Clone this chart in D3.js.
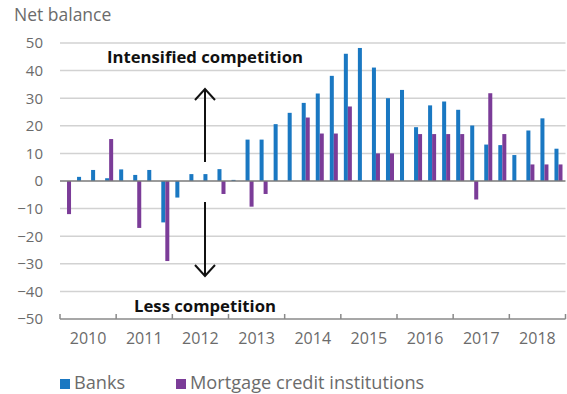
<!DOCTYPE html>
<html>
<head>
<meta charset="utf-8">
<script src="https://cdn.jsdelivr.net/npm/d3@7"></script>
<style>
  html, body { margin: 0; padding: 0; background: #fff; }
  svg { display: block; font-family: "Open Sans", sans-serif; }
</style>
</head>
<body>
<svg id="chart" width="567" height="394"></svg>
<script>
// Quarterly net balance, 2010 Q1 – 2018 Q4
const years = ["2010", "2011", "2012", "2013", "2014", "2015", "2016", "2017", "2018"];
const quarters = years.flatMap(y => ["Q1", "Q2", "Q3", "Q4"].map(q => y + q));
const seriesNames = ["Banks", "Mortgage credit institutions"];
const banks = [
  0, 1.5, 4, 1,
  4.2, 2.2, 4, -15,
  -6, 2.5, 2.5, 4.3,
  0.4, 15, 15, 20.6,
  24.7, 28.3, 31.7, 38.1,
  46.1, 48.2, 41.1, 30,
  33, 19.5, 27.4, 28.8,
  25.8, 20.1, 13.2, 13,
  9.4, 18.3, 22.7, 11.7
];
const mortgage = [
  -12, 0, 0, 15.2,
  0, -17, 0, -29,
  0, 0, 0, -4.7,
  0, -9.3, -4.7, 0,
  0, 23, 17.2, 17.2,
  27, 0, 10, 10,
  0, 17, 17, 17,
  17, -6.7, 31.8, 17,
  0, 6, 6, 6
];
const yTicks = [50, 40, 30, 20, 10, 0, -10, -20, -30, -40, -50];
const colors = ["#1a78c2", "#7b3c98"];

const svg = d3.select("#chart");
const plotLeft = 60, plotRight = 565.5, plotTop = 43, plotBottom = 319;

const y = d3.scaleLinear().domain([-50, 50]).range([plotBottom, plotTop]);
const xq = d3.scaleBand().domain(quarters).range([plotLeft, plotRight]).paddingInner(0).paddingOuter(0);
const xs = d3.scaleBand().domain(seriesNames).range([0, xq.bandwidth()]).paddingInner(0).paddingOuter(0.75);
const xy = d3.scaleBand().domain(years).range([plotLeft, plotRight]);

// Horizontal gridlines
svg.append("g")
  .selectAll("line")
  .data(yTicks.filter(v => v !== 0 && v !== -50))
  .join("line")
  .attr("x1", plotLeft).attr("x2", plotRight)
  .attr("y1", d => y(d)).attr("y2", d => y(d))
  .attr("stroke", "#d2d2d2").attr("stroke-width", 1.5);

// Y tick labels
const yAxis = svg.append("g")
  .attr("transform", `translate(${plotLeft},0)`)
  .call(d3.axisLeft(y).tickValues(yTicks).tickSize(0).tickPadding(17).tickFormat(d3.format("d")));
yAxis.select(".domain").remove();
yAxis.selectAll("text")
  .attr("fill", "#6b6b6b")
  .style("font-size", "15px")
  .style("font-family", "'Open Sans', sans-serif");

// Bars
const data = [];
quarters.forEach((q, i) => {
  data.push({ q, s: seriesNames[0], v: banks[i] });
  data.push({ q, s: seriesNames[1], v: mortgage[i] });
});
svg.append("g")
  .selectAll("rect")
  .data(data.filter(d => d.v !== 0))
  .join("rect")
  .attr("x", d => xq(d.q) + xs(d.s))
  .attr("width", xs.bandwidth())
  .attr("y", d => y(Math.max(0, d.v)))
  .attr("height", d => Math.abs(y(d.v) - y(0)))
  .attr("fill", d => colors[seriesNames.indexOf(d.s)]);

// Zero line
svg.append("line")
  .attr("x1", plotLeft).attr("x2", plotRight)
  .attr("y1", y(0)).attr("y2", y(0))
  .attr("stroke", "#7a7a7a").attr("stroke-width", 1.5);

// Bottom axis with year labels and boundary ticks
svg.append("line")
  .attr("x1", plotLeft).attr("x2", plotRight)
  .attr("y1", plotBottom).attr("y2", plotBottom)
  .attr("stroke", "#8a8a8a").attr("stroke-width", 1.5);
const boundaries = years.map(yr => xy(yr)).concat([plotRight]);
svg.append("g")
  .selectAll("line")
  .data(boundaries)
  .join("line")
  .attr("x1", d => d).attr("x2", d => d)
  .attr("y1", plotBottom).attr("y2", plotBottom - 5)
  .attr("stroke", "#8a8a8a").attr("stroke-width", 1.5);
const xAxis = svg.append("g")
  .attr("transform", `translate(0,${plotBottom})`)
  .call(d3.axisBottom(xy).tickSize(0).tickPadding(14));
xAxis.select(".domain").remove();
xAxis.selectAll("text")
  .attr("fill", "#6b6b6b")
  .style("font-size", "16px")
  .style("font-family", "'Open Sans', sans-serif");

// Axis title
svg.append("text")
  .attr("x", 14).attr("y", 21)
  .attr("fill", "#6b6b6b")
  .style("font-size", "17.5px")
  .text("Net balance");

// Annotations
const ax = 205;
svg.append("text")
  .attr("x", ax).attr("y", 63)
  .attr("text-anchor", "middle")
  .attr("fill", "#111")
  .style("font-size", "16.7px").style("font-weight", "bold")
  .text("Intensified competition");
svg.append("text")
  .attr("x", ax).attr("y", 312)
  .attr("text-anchor", "middle")
  .attr("fill", "#111")
  .style("font-size", "16.7px").style("font-weight", "bold")
  .text("Less competition");

const arrow = svg.append("g").attr("stroke", "#111").attr("stroke-width", 2).attr("fill", "none");
arrow.append("line").attr("x1", ax).attr("x2", ax).attr("y1", 162).attr("y2", 89);
arrow.append("polyline").attr("points", `${ax - 10},100 ${ax},89 ${ax + 10},100`);
arrow.append("line").attr("x1", ax).attr("x2", ax).attr("y1", 202).attr("y2", 276);
arrow.append("polyline").attr("points", `${ax - 10},265 ${ax},276 ${ax + 10},265`);

// Legend
const legend = svg.append("g").attr("transform", "translate(60,379)");
const lx = [0, 116];
seriesNames.forEach((name, i) => {
  const g = legend.append("g").attr("transform", `translate(${lx[i]},0)`);
  g.append("rect").attr("width", 10).attr("height", 10).attr("fill", colors[i]);
  g.append("text")
    .attr("x", 14).attr("y", 10)
    .attr("fill", "#6b6b6b")
    .style("font-size", "18.2px")
    .text(name);
});
</script>
</body>
</html>
